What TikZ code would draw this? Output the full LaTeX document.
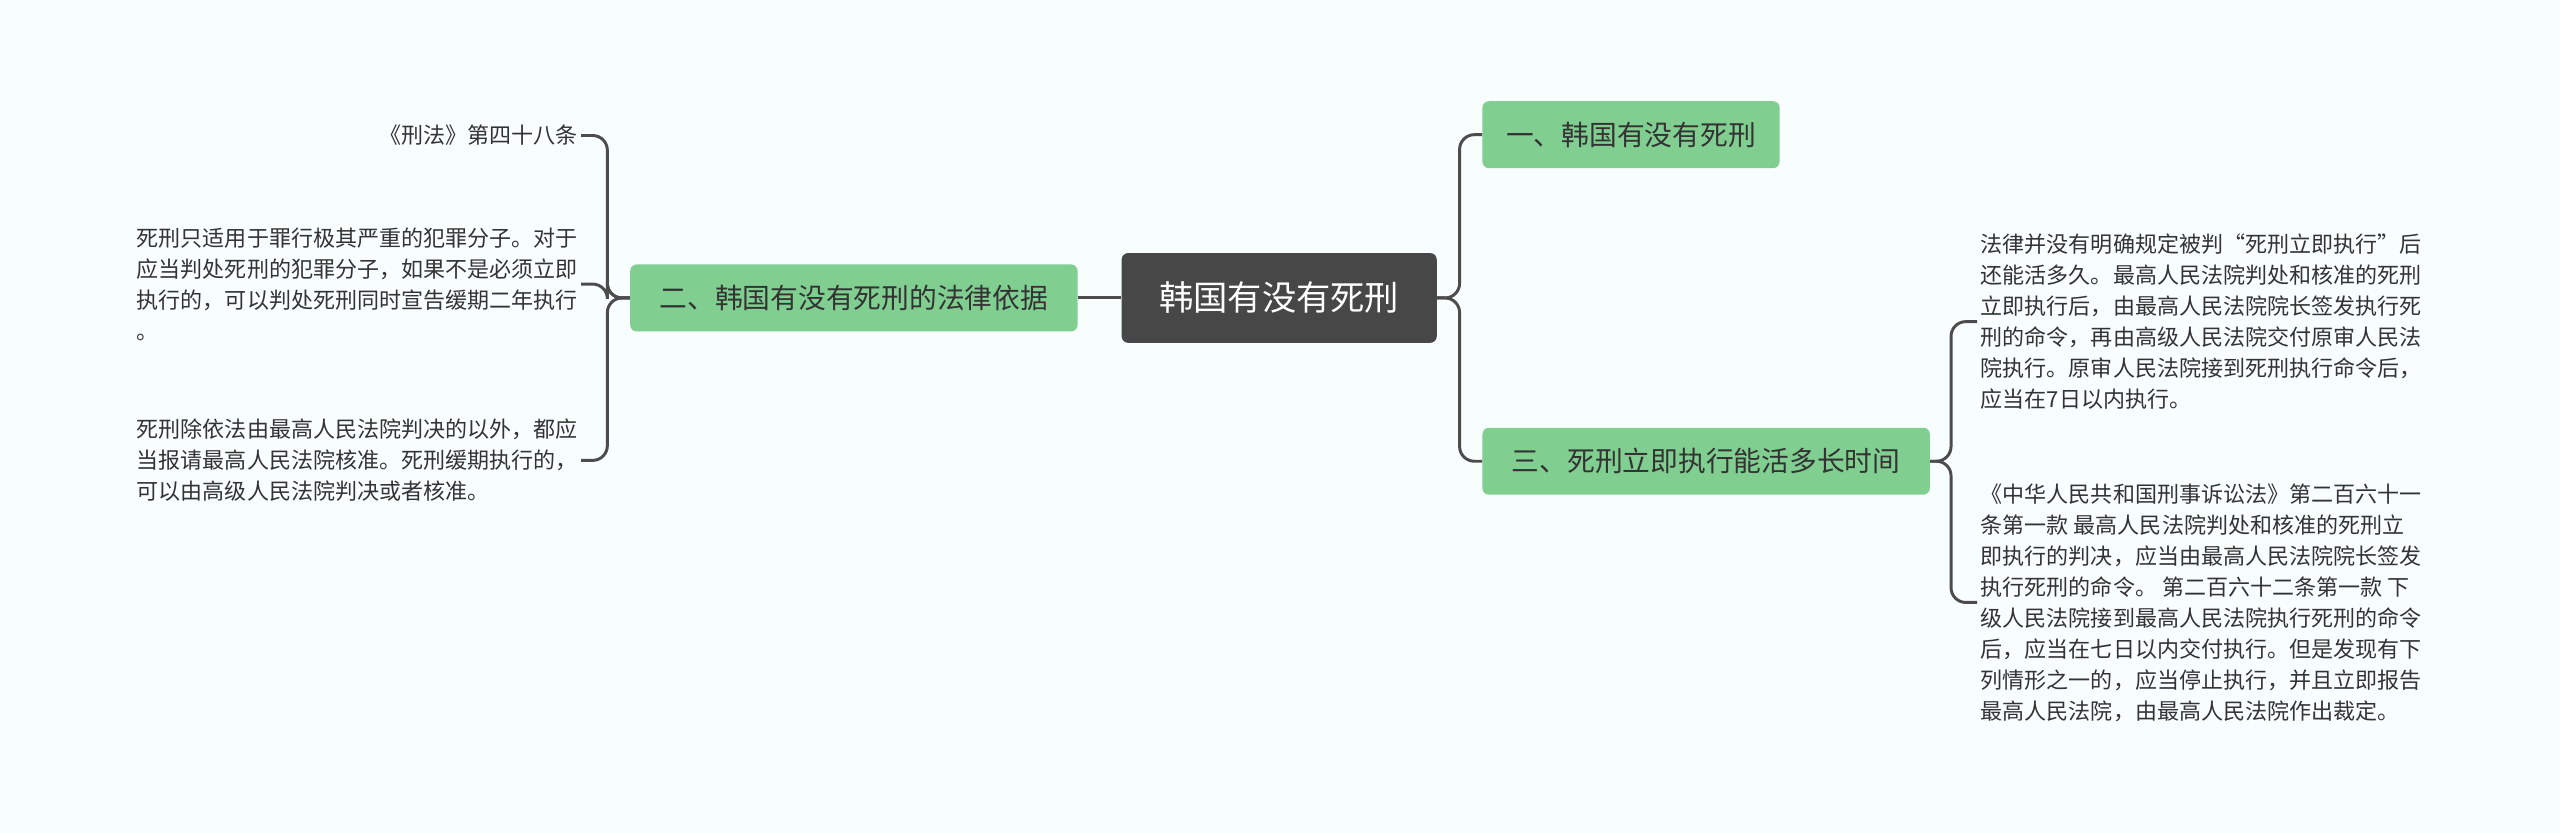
\documentclass[tikz,border=0pt]{standalone}
\usepackage{fontspec}
\setmainfont{Noto Sans CJK SC}
\begin{document}
\begin{tikzpicture}[x=1pt,y=-1pt,
 conn/.style={draw=black!70,line width=1.8pt,rounded corners=9pt},
 root/.style={fill=black!72,text=white,rounded corners=4pt,font=\fontsize{21}{24}\selectfont,minimum width=193pt,minimum height=55pt,inner sep=0pt},
 branch/.style={fill=green!45!teal!35!white,fill=cgreen,text=black!80,rounded corners=4pt,font=\fontsize{17}{20}\selectfont,minimum height=41pt,inner sep=8pt},
 leaf/.style={text=black!80,font=\fontsize{13.5}{19}\selectfont,inner sep=2pt}]
\definecolor{cgreen}{HTML}{80CF91}
\fill[color={rgb,255:red,248;green,253;blue,253}] (0,0) rectangle (1568,510);
\useasboundingbox (0,0) rectangle (1568,510);
\node[root] (r) at (783.5,182.5) {韩国有没有死刑};
\node[branch,minimum width=274pt] (b2) at (523,182.5) {二、韩国有没有死刑的法律依据};
\node[branch,minimum width=182pt] (b1) at (999,82.5) {一、韩国有没有死刑};
\node[branch,minimum width=274pt] (b3) at (1045,282.5) {三、死刑立即执行能活多长时间};
\node[leaf,anchor=east] (l1) at (356,83) {《刑法》第四十八条};
\node[leaf,anchor=east,align=left] (l2) at (356,174) {死刑只适用于罪行极其严重的犯罪分子。对于\\应当判处死刑的犯罪分子，如果不是必须立即\\执行的，可以判处死刑同时宣告缓期二年执行\\。};
\node[leaf,anchor=east,align=left] (l3) at (356,282) {死刑除依法由最高人民法院判决的以外，都应\\当报请最高人民法院核准。死刑缓期执行的，\\可以由高级人民法院判决或者核准。};
\node[leaf,anchor=west,align=left] (r1) at (1211,197) {法律并没有明确规定被判“死刑立即执行”后\\还能活多久。最高人民法院判处和核准的死刑\\立即执行后，由最高人民法院院长签发执行死\\刑的命令，再由高级人民法院交付原审人民法\\院执行。原审人民法院接到死刑执行命令后，\\应当在7日以内执行。};
\node[leaf,anchor=west,align=left] (r2) at (1211,369) {《中华人民共和国刑事诉讼法》第二百六十一\\条第一款 最高人民法院判处和核准的死刑立\\即执行的判决，应当由最高人民法院院长签发\\执行死刑的命令。 第二百六十二条第一款 下\\级人民法院接到最高人民法院执行死刑的命令\\后，应当在七日以内交付执行。但是发现有下\\列情形之一的，应当停止执行，并且立即报告\\最高人民法院，由最高人民法院作出裁定。};
\draw[conn] (r.east) -- (894,182.5) |- (b1.west);
\draw[conn] (r.east) -- (894,182.5) |- (b3.west);
\draw[conn] (r.west) -- (b2.east);
\draw[conn] (b2.west) -- (372,182.5) |- (l1.east);
\draw[conn] (b2.west) -- (372,182.5) |- (l2.east);
\draw[conn] (b2.west) -- (372,182.5) |- (l3.east);
\draw[conn] (b3.east) -- (1195,282.5) |- (r1.west);
\draw[conn] (b3.east) -- (1195,282.5) |- (r2.west);
\end{tikzpicture}
\end{document}
